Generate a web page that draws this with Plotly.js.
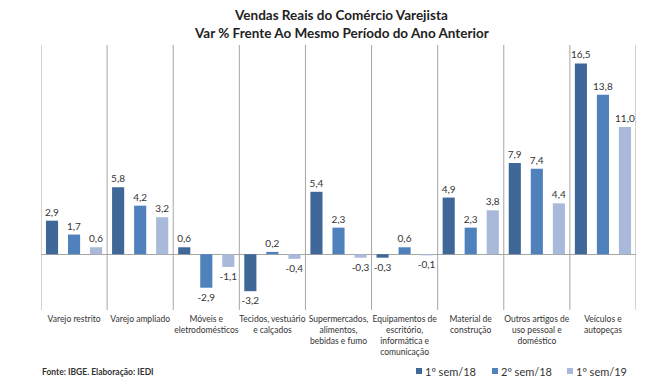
<!DOCTYPE html>
<html><head><meta charset="utf-8">
<script src="https://cdn.plot.ly/plotly-3.0.1.min.js"></script>
<style>html,body{margin:0;padding:0;background:#fff}</style>
</head><body>
<div id="chart" style="width:668px;height:392px"></div>
<script>
const categories = [
  "Varejo restrito",
  "Varejo ampliado",
  "Móveis e<br>eletrodomésticos",
  "Tecidos, vestuário<br>e calçados",
  "Supermercados,<br>alimentos,<br>bebidas e fumo",
  "Equipamentos de<br>escritório,<br>informática e<br>comunicação",
  "Material de<br>construção",
  "Outros artigos de<br>uso pessoal e<br>doméstico",
  "Veículos e<br>autopeças"
];
const seriesNames = ["1º sem/18", "2º sem/18", "1º sem/19"];
const sem1_18 = [2.9, 5.8, 0.6, -3.2, 5.4, -0.3, 4.9, 7.9, 16.5];
const sem2_18 = [1.7, 4.2, -2.9, 0.2, 2.3, 0.6, 2.3, 7.4, 13.8];
const sem1_19 = [0.6, 3.2, -1.1, -0.4, -0.3, -0.1, 3.8, 4.4, 11.0];
const colors = ["#3f6899", "#4f81bd", "#a8b9d9"];

const FONT = "Lato, 'Noto Sans', sans-serif";
const W = 668, H = 392, ML = 41, MR = 32, MT = 45, MB = 80;
const PW = W - ML - MR, PH = H - MT - MB;
const px2x = p => (p - ML) / PW;
const px2y = p => (H - MB - p) / PH;

const xs = categories.map((c, i) => i);
const traces = [sem1_18, sem2_18, sem1_19].map((vals, k) => ({
  type: "bar",
  name: seriesNames[k],
  x: xs,
  y: vals,
  marker: {color: colors[k]},
  texttemplate: "%{y:.1f}",
  textposition: "outside",
  constraintext: "none",
  textfont: {family: FONT, size: 10, color: "#333"},
  cliponaxis: false,
  hoverinfo: "none",
  showlegend: false
}));

const shapes = [];
for (let i = 0; i <= categories.length; i++) {
  shapes.push({type: "line", xref: "x", yref: "paper", x0: i - 0.5, x1: i - 0.5, y0: px2y(310), y1: 1,
    line: {color: "#a6a6a6", width: 1}});
}

const annotations = [
  {text: "<b>Vendas Reais do Comércio Varejista</b>", xref: "paper", yref: "paper",
    x: 0.505, y: 1, yshift: 30, xanchor: "center", yanchor: "middle", showarrow: false,
    font: {family: FONT, size: 13.5, color: "#222"}},
  {text: "<b>Var % Frente Ao Mesmo Período do Ano Anterior</b>", xref: "paper", yref: "paper",
    x: 0.505, y: 1, yshift: 12, xanchor: "center", yanchor: "middle", showarrow: false,
    font: {family: FONT, size: 13.5, color: "#222"}},
  {text: "<b>Fonte: IBGE. Elaboração: IEDI</b>", xref: "paper", yref: "paper",
    x: px2x(40), y: px2y(372), xanchor: "left", yanchor: "middle", showarrow: false,
    font: {family: FONT, size: 8.5, color: "#333"}}
];

// legend (drawn with shapes + annotations to match the compact reference layout)
const legendStarts = [416, 492, 567];
seriesNames.forEach((name, k) => {
  const x0 = legendStarts[k];
  shapes.push({type: "rect", xref: "paper", yref: "paper",
    x0: px2x(x0), x1: px2x(x0 + 6), y0: px2y(374), y1: px2y(368),
    fillcolor: colors[k], line: {width: 0}});
  annotations.push({text: name, xref: "paper", yref: "paper",
    x: px2x(x0 + 7), y: px2y(371), xanchor: "left", yanchor: "middle", showarrow: false,
    font: {family: FONT, size: 11, color: "#333"}});
});

const layout = {
  width: W, height: H,
  margin: {l: ML, r: MR, t: MT, b: MB, autoexpand: false},
  paper_bgcolor: "#fff", plot_bgcolor: "#fff",
  separators: ",.",
  font: {family: FONT, color: "#333"},
  barmode: "group", bargap: 0, bargroupgap: 0.45,
  xaxis: {range: [-0.5, categories.length - 0.5], tickmode: "array", tickvals: xs, ticktext: categories,
    ticks: "", tickangle: 0, showgrid: false, zeroline: false, showline: false,
    tickfont: {family: FONT, size: 8.5, color: "#333"}, fixedrange: true},
  yaxis: {range: [-5, 18.1], visible: true, showticklabels: false, showgrid: false,
    zeroline: true, zerolinecolor: "#a6a6a6", zerolinewidth: 1, showline: false, ticks: "", fixedrange: true},
  shapes: shapes,
  annotations: annotations,
  showlegend: false
};

Plotly.newPlot("chart", traces, layout, {displayModeBar: false, staticPlot: true});
</script>
</body></html>
